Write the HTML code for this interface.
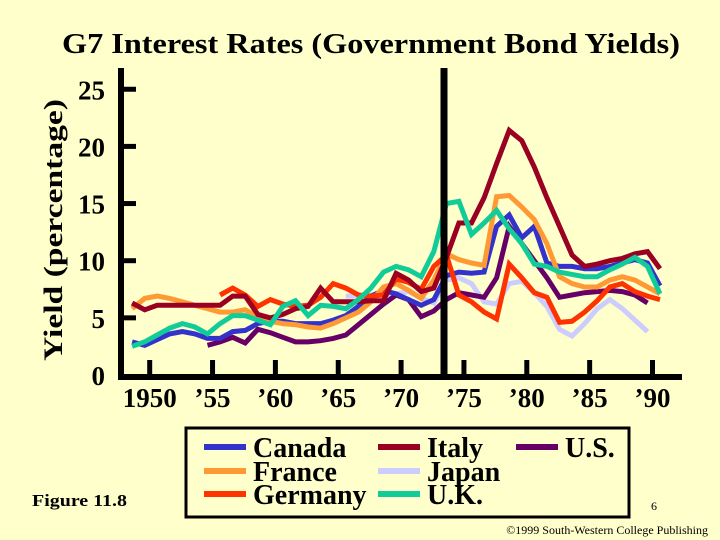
<!DOCTYPE html>
<html><head><meta charset="utf-8"><style>
body{margin:0;background:#FFFFCC;}
svg{display:block;font-family:"Liberation Serif",serif;font-weight:bold;}
</style></head><body>
<svg id="chart" width="720" height="540" viewBox="0 0 720 540">
<rect width="720" height="540" fill="#FFFFCC"/>
<text x="62" y="53" font-size="29" textLength="618" lengthAdjust="spacingAndGlyphs">G7 Interest Rates (Government Bond Yields)</text>
<text transform="translate(62,230) rotate(-90)" font-size="26" text-anchor="middle" textLength="262" lengthAdjust="spacingAndGlyphs">Yield (percentage)</text>
<g id="plot"></g>
<g>
<rect x="186" y="428" width="443" height="89" fill="none" stroke="#000" stroke-width="3"/>
<g id="legend"></g>
</g>
<text x="32" y="506" font-size="17" textLength="95" lengthAdjust="spacingAndGlyphs">Figure 11.8</text>
<text x="651" y="510" font-size="12" font-weight="normal">6</text>
<text x="708" y="534" font-size="12" font-weight="normal" text-anchor="end">©1999 South-Western College Publishing</text>
</svg>
<script>
const yTicks=[0,5,10,15,20,25];
const xTicks=[1950,1955,1960,1965,1970,1975,1980,1985,1990];
const xTickLabels=["1950","\u201955","\u201960","\u201965","\u201970","\u201975","\u201980","\u201985","\u201990"];
const canadaYears=[1949,1950,1951,1952,1953,1954,1955,1956,1957,1958,1959,1960,1961,1962,1963,1964,1965,1966,1967,1968,1969,1970,1971,1972,1973,1974,1975,1976,1977,1978,1979,1980,1981,1982,1983,1984,1985,1986,1987,1988,1989,1990,1991];
const canada=[2.9,2.6,3.1,3.6,3.8,3.6,3.2,3.2,3.8,3.9,4.5,4.7,4.7,4.5,4.5,4.5,4.8,5.2,6.0,6.9,7.4,7.1,6.6,6.1,6.6,8.7,9.0,8.9,9.0,13.0,14.0,12.0,13.0,9.8,9.5,9.5,9.3,9.3,9.5,9.8,10.1,9.8,7.8];
const franceYears=canadaYears;
const france=[5.8,6.7,6.9,6.7,6.4,6.1,5.8,5.5,5.5,5.7,5.1,4.7,4.5,4.4,4.2,4.1,4.5,5.0,5.5,6.4,7.7,8.0,7.4,6.7,8.3,10.6,10.1,9.8,9.6,15.6,15.7,14.7,13.6,11.5,8.6,8.0,7.7,7.7,8.3,8.6,8.3,7.7,7.1];
const germanyYears=[1956,1957,1958,1959,1960,1961,1962,1963,1964,1965,1966,1967,1968,1969,1970,1971,1972,1973,1974,1975,1976,1977,1978,1979,1980,1981,1982,1983,1984,1985,1986,1987,1988,1989,1990,1991];
const germany=[7.0,7.6,7.0,6.0,6.6,6.2,6.0,6.1,6.8,8.0,7.6,7.0,6.9,7.0,8.4,8.1,7.5,9.5,10.5,7.0,6.4,5.5,4.9,9.7,8.5,7.2,6.8,4.6,4.7,5.5,6.5,7.7,8.0,7.3,6.9,6.6];
const japanYears=[1966,1967,1968,1969,1970,1971,1972,1973,1974,1975,1976,1977,1978,1979,1980,1981,1982,1983,1984,1985,1986,1987,1988,1989,1990];
const japan=[6.9,6.9,7.0,7.0,7.1,7.3,6.7,6.3,8.3,8.5,8.0,6.4,6.2,8.0,8.2,7.2,6.0,4.0,3.4,4.5,5.8,6.6,5.8,4.8,3.8];
const ukYears=canadaYears;
const uk=[2.5,2.9,3.5,4.1,4.5,4.2,3.6,4.5,5.2,5.2,4.8,4.4,6.0,6.5,5.2,6.1,6.0,5.8,6.6,7.6,9.0,9.5,9.2,8.6,10.8,15.0,15.2,12.3,13.3,14.4,12.8,11.5,9.7,9.5,9.0,8.8,8.6,8.6,9.2,9.7,10.3,9.5,7.1];
const italyYears=canadaYears;
const italy=[6.3,5.7,6.1,6.1,6.1,6.1,6.1,6.1,6.9,6.9,5.3,5.0,5.3,5.8,6.0,7.6,6.4,6.4,6.4,6.5,6.5,8.9,8.3,7.3,7.6,10.3,13.3,13.3,15.5,18.5,21.4,20.5,18.2,15.5,13.0,10.5,9.5,9.7,10.0,10.2,10.6,10.8,9.3];
const usYears=[1955,1956,1957,1958,1959,1960,1961,1962,1963,1964,1965,1966,1967,1968,1969,1970,1971,1972,1973,1974,1975,1976,1977,1978,1979,1980,1981,1982,1983,1984,1985,1986,1987,1988,1989,1990];
const us=[2.6,2.9,3.3,2.8,4.0,3.7,3.3,2.9,2.9,3.0,3.2,3.5,4.4,5.3,6.2,7.0,6.6,5.1,5.6,6.6,7.2,7.0,6.8,8.5,13.0,11.5,10.0,8.5,6.8,7.0,7.2,7.3,7.4,7.3,7.0,6.3];

const NS="http://www.w3.org/2000/svg";
const plot=document.getElementById('plot');
function x(yr){return 132.1+(yr-1949)*12.57;}
function y(v){return 375-v*11.43;}
function mk(tag,attrs,parent){const e=document.createElementNS(NS,tag);for(const k in attrs)e.setAttribute(k,attrs[k]);(parent||plot).appendChild(e);return e;}

const series=[
 {n:'japan',yr:japanYears,v:japan,c:'#CCCCFF'},
 {n:'us',yr:usYears,v:us,c:'#660066'},
 {n:'canada',yr:canadaYears,v:canada,c:'#3333CC'},
 {n:'france',yr:franceYears,v:france,c:'#FF9933'},
 {n:'germany',yr:germanyYears,v:germany,c:'#FF3300'},
 {n:'italy',yr:italyYears,v:italy,c:'#990022'},
 {n:'uk',yr:ukYears,v:uk,c:'#11CC99'}];
series.forEach(s=>{
 const pts=s.v.map((v,i)=>x(s.yr[i]).toFixed(1)+','+y(v).toFixed(1)).join(' ');
 const p=mk('polyline',{points:pts,fill:'none',stroke:s.c,'stroke-width':5,'stroke-linejoin':'miter'});
 
 
});
const ya=mk('line',{x1:121,y1:68,x2:121,y2:380,stroke:'#000','stroke-width':6});


const xa=mk('line',{x1:118,y1:377,x2:682,y2:377,stroke:'#000','stroke-width':6});


const vl=mk('line',{x1:444,y1:68,x2:444,y2:380,stroke:'#000','stroke-width':7});


yTicks.forEach(t=>{
 if(t>0){const tk=mk('line',{x1:121,y1:y(t),x2:136,y2:y(t),stroke:'#000','stroke-width':5});
 
 }
 const tl=mk('text',{x:105,y:y(t)+10,'font-size':27,'text-anchor':'end'});
 tl.textContent=t;
 
 
});
xTicks.forEach((t,i)=>{
 const px=x(t+0.4);
 const tk=mk('line',{x1:px,y1:360,x2:px,y2:377,stroke:'#000','stroke-width':5});
 
 
 const tl=mk('text',{x:px,y:407,'font-size':27,'text-anchor':'middle'});
 tl.textContent=xTickLabels[i];
 
 
});
const lg=document.getElementById('legend');
const legendItems=[['Canada','#3333CC',204,447],['France','#FF9933',204,471],['Germany','#FF3300',204,494],['Italy','#990022',378,447],['Japan','#CCCCFF',378,471],['U.K.','#11CC99',378,494],['U.S.','#660066',516,447]];
legendItems.forEach(it=>{
 const g=mk('g',{},lg);
 
 
 mk('rect',{x:it[2],y:it[3]-3,width:42,height:6,fill:it[1]},g);
 const t=mk('text',{x:it[2]+49,y:it[3]+10,'font-size':28},g);
 t.textContent=it[0];
});
</script>
</body></html>
